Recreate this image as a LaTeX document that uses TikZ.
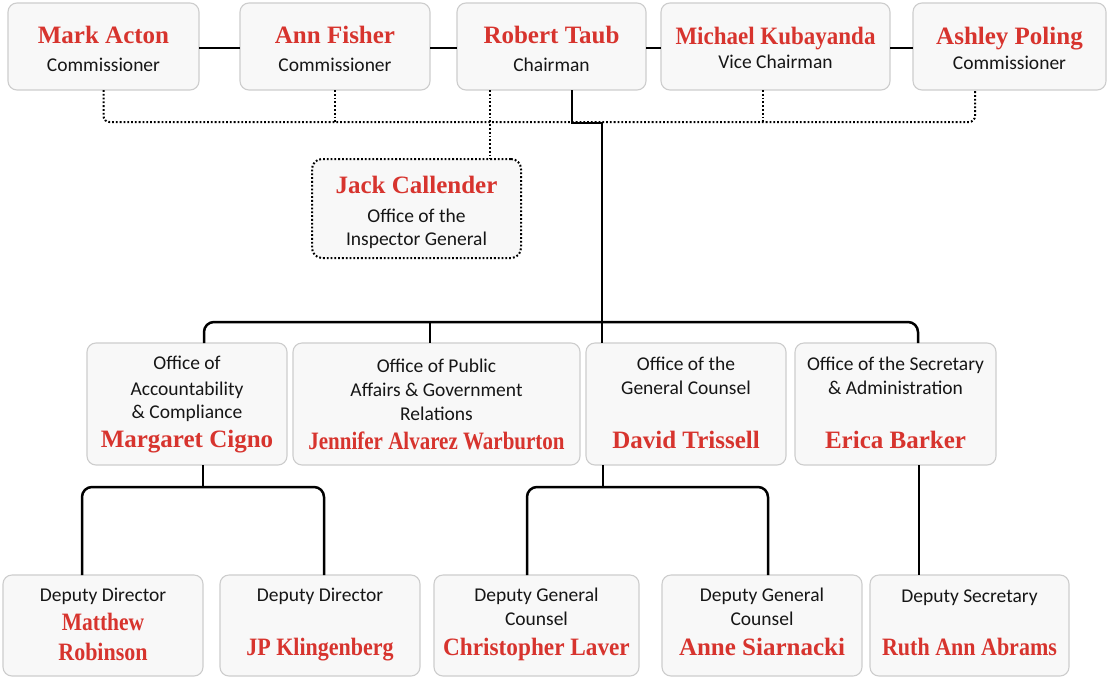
\documentclass[tikz,border=0pt]{standalone}
\usepackage{fontspec}
\usepackage{graphicx}
\newfontfamily\namefont{Liberation Serif}
\newfontfamily\rolefont{Carlito}
\definecolor{namec}{HTML}{D7342E}
\definecolor{rolec}{HTML}{161616}
\definecolor{boxfill}{HTML}{F8F8F8}
\definecolor{boxline}{HTML}{CDCDCD}
\tikzset{
  box/.style={draw=boxline, fill=boxfill, line width=1.1pt, rounded corners=9pt, inner sep=0pt, outer sep=0pt},
  dotbox/.style={draw=black, fill=boxfill, line width=2pt, dash pattern=on 1.8pt off 2pt, rounded corners=10pt, inner sep=0pt, outer sep=0pt},
  nm/.style={anchor=base, inner sep=0pt, text=namec, font=\namefont\bfseries\fontsize{25}{28}\selectfont},
  role/.style={anchor=base, inner sep=0pt, text=rolec, font=\rolefont\fontsize{19.5}{22}\selectfont},
  conn/.style={draw=black, line width=2.5pt},
  dotline/.style={draw=black, line width=2pt, dash pattern=on 1.8pt off 2pt}
}
\begin{document}
\begin{tikzpicture}[x=1pt,y=-1pt]
\fill[white] (0,0) rectangle (1108,678);
\useasboundingbox (0,0) rectangle (1108,678);

% ---------- top row ----------
\node[box, minimum width=191pt, minimum height=87pt] (mark) at (103.5,46.5) {};
\node[box, minimum width=190pt, minimum height=87pt] (ann) at (335,46.5) {};
\node[box, minimum width=189pt, minimum height=87pt] (robert) at (551.5,46.5) {};
\node[box, minimum width=229pt, minimum height=87pt] (michael) at (775.5,46.5) {};
\node[box, minimum width=193pt, minimum height=87pt] (ashley) at (1009.5,46.5) {};

\node[nm] (markN) at (103.5,43) {Mark Acton};
\node[role] (markR) at (103.5,71) {Commissioner};
\node[nm] (annN) at (335,43) {Ann Fisher};
\node[role] (annR) at (335,71) {Commissioner};
\node[nm] (robertN) at (551.5,43) {Robert Taub};
\node[role] (robertR) at (551.5,71) {Chairman};
\node[nm] (michaelN) at (775.5,44) {\scalebox{0.92}[1]{Michael Kubayanda}};
\node[role] (michaelR) at (775.5,68) {Vice Chairman};
\node[nm] (ashleyN) at (1009.5,44) {Ashley Poling};
\node[role] (ashleyR) at (1009.5,69) {Commissioner};

% ---------- inspector general ----------
\node[dotbox, minimum width=209pt, minimum height=99pt] (jack) at (416.5,208.5) {};
\node[nm] (jackN) at (416.5,193) {Jack Callender};
\node[role] (jackR1) at (416.5,222) {Office of the};
\node[role] (jackR2) at (416.5,245) {Inspector General};

% ---------- middle row ----------
\node[box, minimum width=200pt, minimum height=122pt] (margaret) at (187,404) {};
\node[box, minimum width=287pt, minimum height=122pt] (jennifer) at (436.5,404) {};
\node[box, minimum width=200pt, minimum height=122pt] (david) at (686,404) {};
\node[box, minimum width=201pt, minimum height=122pt] (erica) at (895.5,404) {};

\node[role] (margaretR1) at (187,369) {Office of};
\node[role] (margaretR2) at (187,395) {Accountability};
\node[role] (margaretR3) at (187,418) {\& Compliance};
\node[nm] (margaretN) at (187,447) {Margaret Cigno};

\node[role] (jenniferR1) at (436.5,372) {Office of Public};
\node[role] (jenniferR2) at (436.5,396) {Affairs \& Government};
\node[role] (jenniferR3) at (436.5,420) {Relations};
\node[nm] (jenniferN) at (436.5,449) {\scalebox{0.84}[1]{Jennifer Alvarez Warburton}};

\node[role] (davidR1) at (686,370) {Office of the};
\node[role] (davidR2) at (686,394) {General Counsel};
\node[nm] (davidN) at (686,448) {David Trissell};

\node[role] (ericaR1) at (895.5,370) {Office of the Secretary};
\node[role] (ericaR2) at (895.5,394) {\& Administration};
\node[nm] (ericaN) at (895.5,448) {Erica Barker};

% ---------- bottom row ----------
\node[box, minimum width=200pt, minimum height=101pt] (matthew) at (103,625.5) {};
\node[box, minimum width=200pt, minimum height=101pt] (jp) at (320,625.5) {};
\node[box, minimum width=205pt, minimum height=101pt] (christopher) at (536.5,625.5) {};
\node[box, minimum width=200pt, minimum height=101pt] (anne) at (762,625.5) {};
\node[box, minimum width=199pt, minimum height=101pt] (ruth) at (969.5,625.5) {};

\node[role] (matthewR) at (103,601) {Deputy Director};
\node[nm] (matthewN1) at (103,630) {\scalebox{0.86}[1]{Matthew}};
\node[nm] (matthewN2) at (103,660) {\scalebox{0.88}[1]{Robinson}};

\node[role] (jpR) at (320,601) {Deputy Director};
\node[nm] (jpN) at (320,655) {\scalebox{0.88}[1]{JP Klingenberg}};

\node[role] (christopherR1) at (536.5,601) {Deputy General};
\node[role] (christopherR2) at (536.5,625) {Counsel};
\node[nm] (christopherN) at (536.5,655) {\scalebox{0.93}[1]{Christopher Laver}};

\node[role] (anneR1) at (762,601) {Deputy General};
\node[role] (anneR2) at (762,625) {Counsel};
\node[nm] (anneN) at (762,655) {Anne Siarnacki};

\node[role] (ruthR) at (969.5,602) {Deputy Secretary};
\node[nm] (ruthN) at (969.5,655) {\scalebox{0.88}[1]{Ruth Ann Abrams}};

% ---------- connectors: board ----------
\draw[conn] ([yshift=-1.5pt]mark.east) -- ([yshift=-1.5pt]ann.west);
\draw[conn] ([yshift=-1.5pt]ann.east) -- ([yshift=-1.5pt]robert.west);
\draw[conn] ([yshift=-1.5pt]robert.east) -- ([yshift=-1.5pt]michael.west);
\draw[conn] ([yshift=-1.5pt]michael.east) -- ([yshift=-1.5pt]ashley.west);

\coordinate (dbus) at (0,122);
\coordinate (ashD) at ([xshift=-34.5pt]ashley.south);
\coordinate (robD) at ([xshift=-61.5pt]robert.south);
\coordinate (micD) at ([xshift=-12.5pt]michael.south);
\draw[dotline, rounded corners=6pt] (mark.south) -- (mark.south |- dbus) -- (ashD |- dbus) -- (ashD);
\draw[dotline] (ann.south) -- (ann.south |- dbus);
\draw[dotline] (robD) -- (robD |- jack.north);
\draw[dotline] (micD) -- (micD |- dbus);

% ---------- connectors: trunk ----------
\coordinate (robS) at ([xshift=20.5pt]robert.south);
\coordinate (trunk) at (602,123);
\draw[conn] (robS) |- (trunk) -- (trunk |- david.north);

\coordinate (mbus) at (0,322);
\coordinate (margT) at ([xshift=17pt]margaret.north);
\coordinate (jenT) at ([xshift=-6.5pt]jennifer.north);
\coordinate (ericT) at ([xshift=22.5pt]erica.north);
\draw[conn, rounded corners=10pt] (margT) -- (margT |- mbus) -- (ericT |- mbus) -- (ericT);
\draw[conn] (jenT |- mbus) -- (jenT);

% ---------- connectors: deputies ----------
\coordinate (lbus) at (0,487);
\coordinate (margB) at ([xshift=16pt]margaret.south);
\coordinate (matT) at ([xshift=-21pt]matthew.north);
\coordinate (jpT) at ([xshift=4pt]jp.north);
\draw[conn] (margB) -- (margB |- lbus);
\draw[conn, rounded corners=10pt] (matT) -- (matT |- lbus) -- (jpT |- lbus) -- (jpT);

\coordinate (davB) at ([xshift=-83pt]david.south);
\coordinate (chrT) at ([xshift=-9.5pt]christopher.north);
\coordinate (annT) at ([xshift=6pt]anne.north);
\draw[conn] (davB) -- (davB |- lbus);
\draw[conn, rounded corners=10pt] (chrT) -- (chrT |- lbus) -- (annT |- lbus) -- (annT);

\coordinate (ericB) at ([xshift=23.5pt]erica.south);
\draw[conn] (ericB) -- (ericB |- ruth.north);
\end{tikzpicture}
\end{document}
